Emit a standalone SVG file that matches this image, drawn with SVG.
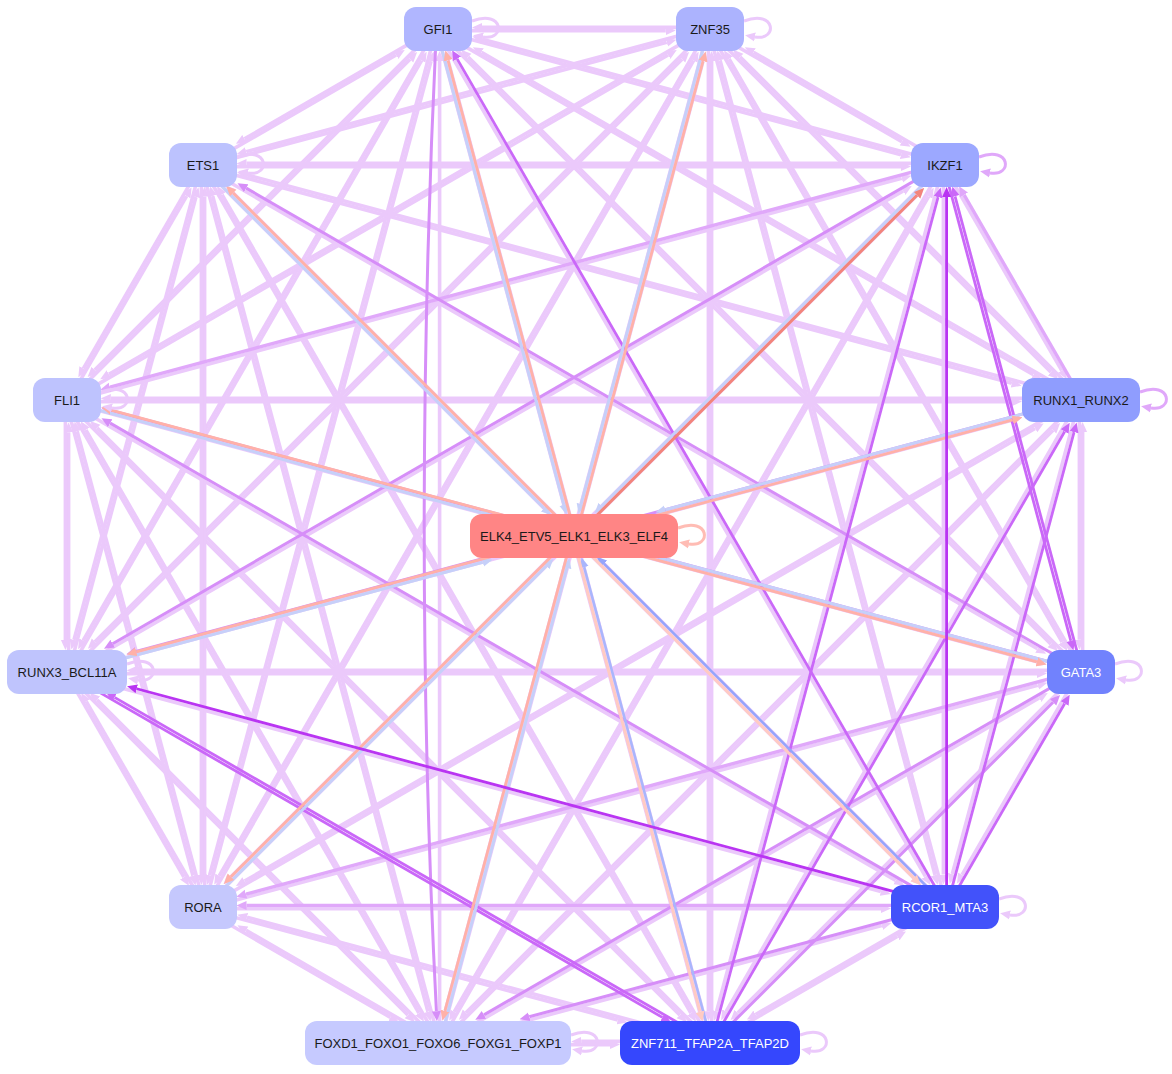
<svg xmlns="http://www.w3.org/2000/svg" width="1172" height="1074" viewBox="0 0 1172 1074">
<style>
#connectors line,#connectors path{fill:none}
.L{stroke:#ebc9fb;stroke-width:3.6;marker-end:url(#aL)}
.M{stroke:#e0a8fa;stroke-width:3.4;marker-end:url(#aM)}
.P{stroke:#d68ef8;stroke-width:3;marker-end:url(#aP)}
.D{stroke:#ca68f8;stroke-width:2.8;marker-end:url(#aD)}
.X{stroke:#b935f2;stroke-width:2.8;marker-end:url(#aX)}
.S{stroke:#ffb1a8;stroke-width:2.8;marker-end:url(#aS)}
.R{stroke:#f2857b;stroke-width:3;marker-end:url(#aR)}
.B{stroke:#c6d0f9;stroke-width:3;marker-end:url(#aB)}
.BD{stroke:#95a5fb;stroke-width:2.5;marker-end:url(#aBD)}
.BL{stroke:#a9b6fc;stroke-width:2.5;marker-end:url(#aBL)}
.PE{stroke:#ffcbc3;stroke-width:3;marker-end:url(#aPE)}
.SL{stroke:#ffbcb4;stroke-width:3;marker-end:url(#aSL)}
#connectors .loop{stroke-width:3}
.n text{font-family:"Liberation Sans",Arial,Helvetica,sans-serif;font-size:13px;text-anchor:middle;fill:#1a1a1a}
.w text{fill:#ffffff}
</style>
<defs>
<marker id="aL" viewBox="0 -5 10 10" refX="0" refY="0" markerWidth="10" markerHeight="10" markerUnits="userSpaceOnUse" orient="auto"><path d="M0,-4.5L10,0L0,4.5z" fill="#ebc9fb"/></marker>
<marker id="aM" viewBox="0 -5 10 10" refX="0" refY="0" markerWidth="10" markerHeight="10" markerUnits="userSpaceOnUse" orient="auto"><path d="M0,-4.5L10,0L0,4.5z" fill="#e0a8fa"/></marker>
<marker id="aP" viewBox="0 -5 10 10" refX="0" refY="0" markerWidth="10" markerHeight="10" markerUnits="userSpaceOnUse" orient="auto"><path d="M0,-4.5L10,0L0,4.5z" fill="#d68ef8"/></marker>
<marker id="aD" viewBox="0 -5 10 10" refX="0" refY="0" markerWidth="10" markerHeight="10" markerUnits="userSpaceOnUse" orient="auto"><path d="M0,-4.5L10,0L0,4.5z" fill="#ca68f8"/></marker>
<marker id="aX" viewBox="0 -5 10 10" refX="0" refY="0" markerWidth="10" markerHeight="10" markerUnits="userSpaceOnUse" orient="auto"><path d="M0,-4.5L10,0L0,4.5z" fill="#b935f2"/></marker>
<marker id="aS" viewBox="0 -5 10 10" refX="0" refY="0" markerWidth="10" markerHeight="10" markerUnits="userSpaceOnUse" orient="auto"><path d="M0,-4.5L10,0L0,4.5z" fill="#ffb1a8"/></marker>
<marker id="aR" viewBox="0 -5 10 10" refX="0" refY="0" markerWidth="10" markerHeight="10" markerUnits="userSpaceOnUse" orient="auto"><path d="M0,-4.5L10,0L0,4.5z" fill="#f2857b"/></marker>
<marker id="aB" viewBox="0 -5 10 10" refX="0" refY="0" markerWidth="10" markerHeight="10" markerUnits="userSpaceOnUse" orient="auto"><path d="M0,-4.5L10,0L0,4.5z" fill="#c6d0f9"/></marker>
<marker id="aBD" viewBox="0 -5 10 10" refX="0" refY="0" markerWidth="10" markerHeight="10" markerUnits="userSpaceOnUse" orient="auto"><path d="M0,-4.5L10,0L0,4.5z" fill="#95a5fb"/></marker>
<marker id="aBL" viewBox="0 -5 10 10" refX="0" refY="0" markerWidth="10" markerHeight="10" markerUnits="userSpaceOnUse" orient="auto"><path d="M0,-4.5L10,0L0,4.5z" fill="#a9b6fc"/></marker>
<marker id="aPE" viewBox="0 -5 10 10" refX="0" refY="0" markerWidth="10" markerHeight="10" markerUnits="userSpaceOnUse" orient="auto"><path d="M0,-4.5L10,0L0,4.5z" fill="#ffcbc3"/></marker>
<marker id="aSL" viewBox="0 -5 10 10" refX="0" refY="0" markerWidth="10" markerHeight="10" markerUnits="userSpaceOnUse" orient="auto"><path d="M0,-4.5L10,0L0,4.5z" fill="#ffbcb4"/></marker>
</defs>
<rect width="1172" height="1074" fill="#ffffff"/>
<g id="connectors">
<g id="light-edges" class="L">
<g transform="translate(438,29) rotate(0)"><line x1="0" y1="1.6" x2="227.8" y2="1.6"/><line x1="271.8" y1="-1.6" x2="44" y2="-1.6"/></g>
<g transform="translate(438,29) rotate(15)"><line x1="0" y1="1.6" x2="479.8" y2="1.6"/><line x1="525" y1="-1.6" x2="45.2" y2="-1.6"/></g>
<g transform="translate(438,29) rotate(30)"><line x1="0" y1="1.6" x2="688.5" y2="1.6"/><line x1="742.5" y1="-1.6" x2="49.3" y2="-1.6"/></g>
<g transform="translate(438,29) rotate(45)"><line x1="0" y1="1.6" x2="868.2" y2="1.6"/><line x1="909.3" y1="-1.6" x2="41.1" y2="-1.6"/></g>
<g transform="translate(438,29) rotate(60)"><line x1="0" y1="1.6" x2="977.6" y2="1.6"/></g>
<g transform="translate(438,29) rotate(75)"><line x1="0" y1="1.6" x2="1017.2" y2="1.6"/><line x1="1050" y1="-1.6" x2="32.8" y2="-1.6"/></g>
<g transform="translate(438,29) rotate(90)"><line x1="1014.2" y1="-1.6" x2="32" y2="-1.6"/></g>
<g transform="translate(438,29) rotate(105)"><line x1="0" y1="1.6" x2="876.5" y2="1.6"/><line x1="909.3" y1="-1.6" x2="32.8" y2="-1.6"/></g>
<g transform="translate(438,29) rotate(120)"><line x1="0" y1="1.6" x2="707.1" y2="1.6"/><line x1="742.5" y1="-1.6" x2="35.4" y2="-1.6"/></g>
<g transform="translate(438,29) rotate(135)"><line x1="0" y1="1.6" x2="483.9" y2="1.6"/><line x1="525" y1="-1.6" x2="41.1" y2="-1.6"/></g>
<g transform="translate(438,29) rotate(150)"><line x1="0" y1="1.6" x2="222.5" y2="1.6"/><line x1="271.8" y1="-1.6" x2="49.3" y2="-1.6"/></g>

<g transform="translate(710,29) rotate(30)"><line x1="0" y1="1.6" x2="222.5" y2="1.6"/><line x1="271.8" y1="-1.6" x2="49.3" y2="-1.6"/></g>
<g transform="translate(710,29) rotate(45)"><line x1="0" y1="1.6" x2="483.9" y2="1.6"/><line x1="525" y1="-1.6" x2="41.1" y2="-1.6"/></g>
<g transform="translate(710,29) rotate(60)"><line x1="0" y1="1.6" x2="707.1" y2="1.6"/><line x1="742.5" y1="-1.6" x2="35.4" y2="-1.6"/></g>
<g transform="translate(710,29) rotate(75)"><line x1="0" y1="1.6" x2="875.5" y2="1.6"/><line x1="909.3" y1="-1.6" x2="32.8" y2="-1.6"/></g>
<g transform="translate(710,29) rotate(90)"><line x1="0" y1="1.6" x2="982.2" y2="1.6"/><line x1="1014.2" y1="-1.6" x2="32" y2="-1.6"/></g>
<g transform="translate(710,29) rotate(105)"><line x1="0" y1="1.6" x2="1017.2" y2="1.6"/><line x1="1050" y1="-1.6" x2="32.8" y2="-1.6"/></g>
<g transform="translate(710,29) rotate(120)"><line x1="0" y1="1.6" x2="978.8" y2="1.6"/><line x1="1014.2" y1="-1.6" x2="35.4" y2="-1.6"/></g>
<g transform="translate(710,29) rotate(135)"><line x1="0" y1="1.6" x2="868.2" y2="1.6"/><line x1="909.3" y1="-1.6" x2="41.1" y2="-1.6"/></g>
<g transform="translate(710,29) rotate(150)"><line x1="0" y1="1.6" x2="693.2" y2="1.6"/><line x1="742.5" y1="-1.6" x2="49.3" y2="-1.6"/></g>
<g transform="translate(710,29) rotate(165)"><line x1="0" y1="1.6" x2="479.8" y2="1.6"/><line x1="525" y1="-1.6" x2="45.2" y2="-1.6"/></g>

<g transform="translate(945,165) rotate(60)"><line x1="0" y1="1.6" x2="236.4" y2="1.6"/></g>
<g transform="translate(945,165) rotate(90)"><line x1="0" y1="1.6" x2="709.5" y2="1.6"/></g>
<g transform="translate(945,165) rotate(105)"><line x1="0" y1="1.6" x2="876.5" y2="1.6"/></g>
<g transform="translate(945,165) rotate(120)"><line x1="0" y1="1.6" x2="978.8" y2="1.6"/><line x1="1014.2" y1="-1.6" x2="35.4" y2="-1.6"/></g>
<g transform="translate(945,165) rotate(135)"><line x1="0" y1="1.6" x2="1008.9" y2="1.6"/><line x1="1050" y1="-1.6" x2="41.1" y2="-1.6"/></g>
<g transform="translate(945,165) rotate(150)"><line x1="1014.2" y1="-1.6" x2="49.3" y2="-1.6"/></g>
<g transform="translate(945,165) rotate(165)"><line x1="909.3" y1="-1.6" x2="45.2" y2="-1.6"/></g>
<g transform="translate(945,165) rotate(180)"><line x1="0" y1="1.6" x2="698.5" y2="1.6"/><line x1="742.5" y1="-1.6" x2="44" y2="-1.6"/></g>

<g transform="translate(1081,400) rotate(90)"><line x1="0" y1="1.6" x2="239.8" y2="1.6"/><line x1="271.8" y1="-1.6" x2="32" y2="-1.6"/></g>
<g transform="translate(1081,400) rotate(105)"><line x1="0" y1="1.6" x2="491.2" y2="1.6"/></g>
<g transform="translate(1081,400) rotate(120)"><line x1="0" y1="1.6" x2="707.1" y2="1.6"/></g>
<g transform="translate(1081,400) rotate(135)"><line x1="0" y1="1.6" x2="868.2" y2="1.6"/><line x1="909.3" y1="-1.6" x2="41.1" y2="-1.6"/></g>
<g transform="translate(1081,400) rotate(150)"><line x1="0" y1="1.6" x2="964.9" y2="1.6"/><line x1="1014.2" y1="-1.6" x2="54" y2="-1.6"/></g>
<g transform="translate(1081,400) rotate(165)"><line x1="1050" y1="-1.6" x2="71.1" y2="-1.6"/></g>
<g transform="translate(1081,400) rotate(180)"><line x1="0" y1="1.6" x2="970.2" y2="1.6"/><line x1="1014.2" y1="-1.6" x2="69" y2="-1.6"/></g>
<g transform="translate(1081,400) rotate(195)"><line x1="0" y1="1.6" x2="864.1" y2="1.6"/><line x1="909.3" y1="-1.6" x2="71.1" y2="-1.6"/></g>

<g transform="translate(1081,672) rotate(120)"><line x1="0" y1="1.6" x2="235.2" y2="1.6"/></g>
<g transform="translate(1081,672) rotate(135)"><line x1="0" y1="1.6" x2="483.9" y2="1.6"/></g>
<g transform="translate(1081,672) rotate(150)"><line x1="742.5" y1="-1.6" x2="49.3" y2="-1.6"/></g>
<g transform="translate(1081,672) rotate(165)"><line x1="909.3" y1="-1.6" x2="45.2" y2="-1.6"/></g>
<g transform="translate(1081,672) rotate(180)"><line x1="0" y1="1.6" x2="944.2" y2="1.6"/><line x1="1014.2" y1="-1.6" x2="44" y2="-1.6"/></g>
<g transform="translate(1081,672) rotate(195)"><line x1="1050" y1="-1.6" x2="45.2" y2="-1.6"/></g>
<g transform="translate(1081,672) rotate(210)"><line x1="1014.2" y1="-1.6" x2="49.3" y2="-1.6"/></g>

<g transform="translate(945,907) rotate(150)"><line x1="0" y1="1.6" x2="217.8" y2="1.6"/><line x1="271.8" y1="-1.6" x2="56" y2="-1.6"/></g>
<g transform="translate(945,907) rotate(165)"><line x1="525" y1="-1.6" x2="65.9" y2="-1.6"/></g>
<g transform="translate(945,907) rotate(180)"><line x1="742.5" y1="-1.6" x2="64" y2="-1.6"/></g>
<g transform="translate(945,907) rotate(195)"><line x1="909.3" y1="-1.6" x2="65.9" y2="-1.6"/></g>
<g transform="translate(945,907) rotate(210)"><line x1="1014.2" y1="-1.6" x2="56" y2="-1.6"/></g>
<g transform="translate(945,907) rotate(225)"><line x1="0" y1="1.6" x2="1008.9" y2="1.6"/><line x1="1050" y1="-1.6" x2="42.5" y2="-1.6"/></g>

<g transform="translate(710,1043) rotate(180)"><line x1="0" y1="1.6" x2="128.8" y2="1.6"/><line x1="271.8" y1="-1.6" x2="100" y2="-1.6"/></g>
<g transform="translate(710,1043) rotate(195)"><line x1="0" y1="1.6" x2="479.8" y2="1.6"/><line x1="525" y1="-1.6" x2="95" y2="-1.6"/></g>
<g transform="translate(710,1043) rotate(225)"><line x1="0" y1="1.6" x2="868.2" y2="1.6"/><line x1="909.3" y1="-1.6" x2="41.1" y2="-1.6"/></g>
<g transform="translate(710,1043) rotate(240)"><line x1="0" y1="1.6" x2="978.8" y2="1.6"/><line x1="1014.2" y1="-1.6" x2="35.4" y2="-1.6"/></g>

<g transform="translate(438,1043) rotate(210)"><line x1="0" y1="1.6" x2="222.5" y2="1.6"/><line x1="271.8" y1="-1.6" x2="54" y2="-1.6"/></g>
<g transform="translate(438,1043) rotate(225)"><line x1="0" y1="1.6" x2="483.9" y2="1.6"/><line x1="525" y1="-1.6" x2="41.1" y2="-1.6"/></g>
<g transform="translate(438,1043) rotate(240)"><line x1="0" y1="1.6" x2="707.1" y2="1.6"/><line x1="742.5" y1="-1.6" x2="35.4" y2="-1.6"/></g>
<g transform="translate(438,1043) rotate(255)"><line x1="0" y1="1.6" x2="876.5" y2="1.6"/><line x1="909.3" y1="-1.6" x2="32.8" y2="-1.6"/></g>

<g transform="translate(203,907) rotate(240)"><line x1="0" y1="1.6" x2="236.4" y2="1.6"/><line x1="271.8" y1="-1.6" x2="35.4" y2="-1.6"/></g>
<g transform="translate(203,907) rotate(255)"><line x1="0" y1="1.6" x2="492.2" y2="1.6"/><line x1="525" y1="-1.6" x2="32.8" y2="-1.6"/></g>
<g transform="translate(203,907) rotate(270)"><line x1="0" y1="1.6" x2="710.5" y2="1.6"/><line x1="742.5" y1="-1.6" x2="32" y2="-1.6"/></g>

<g transform="translate(67,672) rotate(270)"><line x1="0" y1="1.6" x2="239.8" y2="1.6"/><line x1="271.8" y1="-1.6" x2="32" y2="-1.6"/></g>
<g transform="translate(67,672) rotate(285)"><line x1="0" y1="1.6" x2="492.2" y2="1.6"/><line x1="525" y1="-1.6" x2="32.8" y2="-1.6"/></g>

<g transform="translate(67,400) rotate(300)"><line x1="0" y1="1.6" x2="236.4" y2="1.6"/><line x1="271.8" y1="-1.6" x2="35.4" y2="-1.6"/></g>
</g>

<g id="colored-edges">
<g transform="translate(945,165) rotate(60)"><line class="M" x1="271.8" y1="-1.6" x2="35.4" y2="-1.6"/></g>
<g transform="translate(945,165) rotate(165)"><line class="M" x1="0" y1="1.6" x2="864.1" y2="1.6"/></g>
<g transform="translate(945,907) rotate(180)"><line class="M" x1="0" y1="1.6" x2="698.5" y2="1.6"/></g>
<g transform="translate(1081,672) rotate(165)"><line class="M" x1="0" y1="1.6" x2="864.1" y2="1.6"/></g>
<g transform="translate(438,29) rotate(90)"><path class="P" d="M0,1.6 Q507,26 982.2,1.6"/></g>
<g transform="translate(945,165) rotate(150)"><line class="P" x1="0" y1="1.6" x2="960.2" y2="1.6"/></g>
<g transform="translate(1081,400) rotate(165)"><line class="P" x1="0" y1="1.6" x2="977.9" y2="1.6"/></g>
<g transform="translate(1081,672) rotate(135)"><line class="P" x1="525" y1="-1.6" x2="41.1" y2="-1.6"/></g>
<g transform="translate(1081,672) rotate(150)"><line class="P" x1="0" y1="1.6" x2="688.5" y2="1.6"/></g>
<g transform="translate(1081,672) rotate(195)"><line class="P" x1="0" y1="1.6" x2="1004.8" y2="1.6"/></g>
<g transform="translate(1081,672) rotate(210)"><line class="P" x1="0" y1="1.6" x2="964.9" y2="1.6"/></g>
<g transform="translate(945,907) rotate(165)"><line class="P" x1="0" y1="1.6" x2="430" y2="1.6"/></g>
<g transform="translate(945,907) rotate(210)"><line class="P" x1="0" y1="1.6" x2="964.9" y2="1.6"/></g>
<g transform="translate(438,29) rotate(60)"><line class="D" x1="1014.2" y1="-1.6" x2="35.4" y2="-1.6"/></g>
<g transform="translate(945,165) rotate(75)"><line class="D" x1="0" y1="1.6" x2="492.2" y2="1.6"/><line class="D" x1="525" y1="-1.6" x2="32.8" y2="-1.6"/></g>
<g transform="translate(945,165) rotate(105)"><line class="D" x1="909.3" y1="-1.6" x2="32.8" y2="-1.6"/></g>
<g transform="translate(1081,400) rotate(105)"><line class="D" x1="525" y1="-1.6" x2="32.8" y2="-1.6"/></g>
<g transform="translate(1081,400) rotate(120)"><line class="D" x1="742.5" y1="-1.6" x2="35.4" y2="-1.6"/></g>
<g transform="translate(1081,672) rotate(120)"><line class="D" x1="271.8" y1="-1.6" x2="35.4" y2="-1.6"/></g>
<g transform="translate(710,1043) rotate(210)"><line class="D" x1="0" y1="1.6" x2="688.5" y2="1.6"/><line class="D" x1="742.5" y1="-1.6" x2="54" y2="-1.6"/></g>
</g>

<g id="center-edges">
<g transform="translate(438,29) rotate(75)"><line class="B" x1="0" y1="1.6" x2="492.2" y2="1.6"/><line class="S" x1="525" y1="-1.6" x2="32.8" y2="-1.6"/></g>
<g transform="translate(710,29) rotate(105)"><line class="B" x1="0" y1="1.6" x2="492.2" y2="1.6"/><line class="S" x1="525" y1="-1.6" x2="32.8" y2="-1.6"/></g>
<g transform="translate(945,165) rotate(135)"><line class="B" x1="0" y1="1.6" x2="483.9" y2="1.6"/><line class="R" x1="525" y1="-1.6" x2="41.1" y2="-1.6"/></g>
<g transform="translate(1081,400) rotate(165)"><line class="B" x1="0" y1="1.6" x2="430" y2="1.6"/><line class="S" x1="525" y1="-1.6" x2="71.1" y2="-1.6"/></g>
<g transform="translate(1081,672) rotate(195)"><line class="B" x1="0" y1="1.6" x2="430" y2="1.6"/><line class="S" x1="525" y1="-1.6" x2="45.2" y2="-1.6"/></g>
<g transform="translate(945,907) rotate(225)"><line class="BD" x1="0" y1="1.6" x2="483.9" y2="1.6"/><line class="PE" x1="525" y1="-1.6" x2="42.5" y2="-1.6"/></g>
<g transform="translate(710,1043) rotate(255)"><line class="BL" x1="0" y1="1.6" x2="492.2" y2="1.6"/><line class="PE" x1="525" y1="-1.6" x2="32.8" y2="-1.6"/></g>
<g transform="translate(438,1043) rotate(285)"><line class="B" x1="0" y1="1.6" x2="492.2" y2="1.6"/><line class="S" x1="525" y1="-1.6" x2="32.8" y2="-1.6"/></g>
<g transform="translate(203,907) rotate(315)"><line class="B" x1="0" y1="1.6" x2="483.9" y2="1.6"/><line class="S" x1="525" y1="-1.6" x2="41.1" y2="-1.6"/></g>
<g transform="translate(67,672) rotate(345)"><line class="B" x1="0" y1="1.6" x2="430" y2="1.6"/><line class="S" x1="525" y1="-1.6" x2="72.1" y2="-1.6"/></g>
<g transform="translate(67,400) rotate(15)"><line class="B" x1="0" y1="1.6" x2="430" y2="1.6"/><line class="S" x1="525" y1="-1.6" x2="45.2" y2="-1.6"/></g>
<g transform="translate(203,165) rotate(45)"><line class="B" x1="0" y1="1.6" x2="483.9" y2="1.6"/><line class="S" x1="525" y1="-1.6" x2="41.1" y2="-1.6"/></g>
</g>

<g id="deep-edges">
<g transform="translate(945,165) rotate(90)"><line class="X" x1="742.5" y1="-1.6" x2="32" y2="-1.6"/></g>
<g transform="translate(945,907) rotate(195)"><line class="X" x1="0" y1="1.6" x2="837.2" y2="1.6"/></g>
</g>

<g id="self-loops">
<path class="L loop" d="M472,21 C504,9 506,41 483,37"/>
<path class="L loop" d="M744,21 C776,9 778,41 755,37"/>
<path class="M loop" d="M979,157 C1011,145 1013,177 990,173"/>
<path class="M loop" d="M1140,392 C1172,380 1174,412 1151,408"/>
<path class="L loop" d="M1115,664 C1147,652 1149,684 1126,680"/>
<path class="L loop" d="M999,899 C1031,887 1033,919 1010,915"/>
<path class="L loop" d="M800,1035 C832,1023 834,1055 811,1051"/>
<path class="L loop" d="M571,1035 C603,1023 605,1055 582,1051"/>
<path class="SL loop" d="M678,528 C710,516 712,548 689,544"/>
<path class="L loop" d="M237,157 C269,145 271,177 248,173"/>
<path class="L loop" d="M101,392 C133,380 135,412 112,408"/>
<path class="L loop" d="M127,664 C159,652 161,684 138,680"/>
</g>
</g>

<g id="nodes">
<g id="GFI1" class="n"><rect x="404" y="7" width="68" height="44" rx="12" fill="#b0b6ff"/><text x="438" y="33.5">GFI1</text></g>
<g id="ZNF35" class="n"><rect x="676" y="7" width="68" height="44" rx="12" fill="#acb3fe"/><text x="710" y="33.5">ZNF35</text></g>
<g id="IKZF1" class="n"><rect x="911" y="143" width="68" height="44" rx="12" fill="#9ca8ff"/><text x="945" y="169.5">IKZF1</text></g>
<g id="RUNX1_RUNX2" class="n"><rect x="1022" y="378" width="118" height="44" rx="12" fill="#8f9dfe"/><text x="1081" y="404.5">RUNX1_RUNX2</text></g>
<g id="GATA3" class="n w"><rect x="1047" y="650" width="68" height="44" rx="12" fill="#7182fd"/><text x="1081" y="676.5">GATA3</text></g>
<g id="RCOR1_MTA3" class="n w"><rect x="891" y="885" width="108" height="44" rx="12" fill="#4252fa"/><text x="945" y="911.5">RCOR1_MTA3</text></g>
<g id="ZNF711_TFAP2A_TFAP2D" class="n w"><rect x="620" y="1021" width="180" height="44" rx="12" fill="#3547fd"/><text x="710" y="1047.5">ZNF711_TFAP2A_TFAP2D</text></g>
<g id="FOXD1_FOXO1_FOXO6_FOXG1_FOXP1" class="n"><rect x="305" y="1021" width="266" height="44" rx="12" fill="#c6caff"/><text x="438" y="1047.5">FOXD1_FOXO1_FOXO6_FOXG1_FOXP1</text></g>
<g id="RORA" class="n"><rect x="169" y="885" width="68" height="44" rx="12" fill="#c5c8fd"/><text x="203" y="911.5">RORA</text></g>
<g id="RUNX3_BCL11A" class="n"><rect x="7" y="650" width="120" height="44" rx="12" fill="#bfc4fd"/><text x="67" y="676.5">RUNX3_BCL11A</text></g>
<g id="FLI1" class="n"><rect x="33" y="378" width="68" height="44" rx="12" fill="#bec3fe"/><text x="67" y="404.5">FLI1</text></g>
<g id="ETS1" class="n"><rect x="169" y="143" width="68" height="44" rx="12" fill="#bcc2fe"/><text x="203" y="169.5">ETS1</text></g>
<g id="ELK4_ETV5_ELK1_ELK3_ELF4" class="n"><rect x="470" y="514" width="208" height="44" rx="12" fill="#ff8585"/><text x="574" y="540.5">ELK4_ETV5_ELK1_ELK3_ELF4</text></g>
</g>
</svg>
